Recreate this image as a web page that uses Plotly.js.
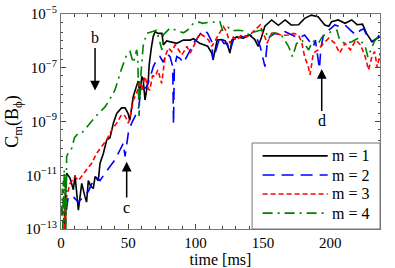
<!DOCTYPE html>
<html><head><meta charset="utf-8">
<script src="https://cdn.plot.ly/plotly-3.0.1.min.js"></script>
<style>html,body{margin:0;padding:0;background:#fff}#chart{width:395px;height:268px}</style>
</head><body><div id="chart"></div>
<script>
// time [ms] and C_m(B_phi) values
const t1 = [2.5,3,4.2,6.7,9.2,10.4,12.9,15.4,17.8,19,20.3,22,24,25.3,27.7,29,31.4,34,36.4,38.9,41.4,45,47.6,49.8,51.1,53.7,56,57.4,58.7,60,61,62.4,64.9,65.5,67,68.5,70,72,75,76,78.5,81,83.5,86,91,96,98.5,103,109,112,113,116,119.5,122,124,125.5,127,130.5,135.5,140,144,146.5,149,151.5,156.5,161.5,166.5,171,176.5,181,186,191,196,199,201,206,211,216,220,224,227,231,235,237];
const m1 = [1e-13,1e-12,1.2e-11,7.9e-12,2.9e-12,1e-11,5e-13,5e-12,1.6e-12,1e-12,6.3e-12,4e-12,3.2e-12,8.9e-12,6.3e-12,2.8e-11,6.3e-11,2.1e-10,2.5e-10,8.7e-10,2e-9,3.2e-9,3.2e-9,2e-9,1.1e-9,8.5e-9,2e-8,3.2e-8,1e-8,4.7e-8,4e-8,6.3e-9,3.7e-8,1.26e-7,5e-7,1.45e-6,2.2e-6,1.9e-6,1.9e-6,7.1e-7,1e-6,9.3e-7,8.9e-7,8.1e-7,1.07e-6,1.07e-6,1.2e-6,8.1e-7,6.3e-7,3.5e-7,1.95e-7,1.07e-6,1.12e-6,1e-6,6.2e-7,3.5e-7,1.07e-6,1.4e-6,1.26e-6,1.66e-6,1.12e-6,6.2e-7,1.4e-6,3.5e-6,6e-6,3.8e-6,6e-6,3.9e-6,4e-6,6.9e-6,9.1e-6,7.9e-6,3.9e-6,3.5e-6,5.2e-6,6e-6,4.5e-6,6e-6,4e-6,4.2e-6,1.9e-6,9.3e-7,1.26e-6,1.4e-6];

const t2 = [3,3.5,5.4,9,12.9,16.6,20.3,25.3,29,32.7,36.4,40,43.8,46.3,47.6,48.8,50,52.5,55,57.4,58.7,61,63.6,66,68.6,71,73.5,76,78.5,81,83,83.6,84.2,86,88.5,91,94.8,98.3,102,104.5,107,109,112,113,116,118,121,123.5,125.5,128,131.5,135.5,140,145,148,149.5,151.5,153,155,159,164,166.5,171,176.5,181,185,187.5,189,191,192,193,195,199,203.5,207,211,215,219,222.5,225,227,231,235,237];
const m2 = [1e-13,3.2e-13,1.6e-12,1.6e-12,1e-12,1.6e-12,2.5e-12,8.9e-12,6.3e-12,1.2e-11,2.1e-11,3.7e-11,8.7e-11,1.55e-10,5e-11,1.26e-10,3.7e-10,8.7e-10,1.5e-9,2.7e-9,7.9e-9,1.5e-8,2e-8,4e-8,1.1e-7,1.95e-7,2.6e-7,1.6e-7,3.5e-7,2.6e-7,1.1e-7,7.9e-10,1e-7,2.6e-7,2.2e-7,1.5e-7,3.5e-7,8.1e-7,1.4e-6,2.2e-6,2.5e-6,1.9e-6,9.3e-7,1.95e-7,6.3e-7,1.4e-6,8.1e-7,8.1e-7,4e-7,1.07e-6,1.66e-6,1.4e-6,1.66e-6,1.4e-6,6.2e-7,2.6e-7,1.1e-7,6.3e-7,1.4e-6,1.9e-6,1.66e-6,2.2e-6,1.66e-6,1.26e-6,1.66e-6,9.3e-7,6.2e-7,1.07e-6,1.95e-7,9.1e-8,5e-7,1.66e-6,2.5e-6,3.9e-6,3.4e-6,3.9e-6,2.5e-6,1.66e-6,2.5e-6,2.8e-6,1.66e-6,9.3e-7,1.26e-6,1.9e-6];

const t3 = [2.5,3,3.5,4.2,6.7,10.4,12.9,15.4,19,22.8,26.5,30.2,34,37.7,41.4,45,47.6,50,51.1,53.7,56.2,58.7,60,62.4,64.9,66,68,70,72,74.8,77.3,79.8,82.3,84.8,87.3,89.8,93.5,96,99.5,103,107,109.6,112,114.6,118.4,120.6,123,125.5,128,130.5,134,138,141.5,145.4,148,150,151.5,153,156.5,160,164,169,172.6,176.5,179,181,183.7,185,187.5,191,195,199,203.5,207,211,215,219,222.5,226,228.5,231,233,235,237];
const m3 = [1e-13,1e-12,1.6e-13,1.6e-12,5e-12,8.9e-12,6.3e-12,8.9e-12,1.6e-11,2.8e-11,6.6e-11,1.17e-10,2.1e-10,4.9e-10,8.7e-10,1.8e-9,1.6e-9,8.7e-10,1.26e-9,6.3e-9,1.1e-8,3.5e-8,1.5e-8,4.7e-8,1.6e-8,1.5e-8,5e-8,4.7e-8,8.3e-8,2.6e-8,2.6e-7,5.4e-7,4e-7,7.1e-7,4.5e-7,3e-7,6.2e-7,3.5e-7,8.1e-7,1.9e-6,1.4e-6,1.07e-6,6.2e-7,1.07e-6,2.2e-6,3.4e-6,2.2e-6,8.1e-7,1.4e-6,1.07e-6,1.66e-6,1.4e-6,1.9e-6,3e-6,3.9e-6,1.9e-6,1.4e-6,8.1e-7,1.9e-6,1.9e-6,1.6e-6,1.66e-6,1.9e-6,1.66e-6,8.1e-7,2.6e-7,1.1e-7,5.4e-8,3.5e-7,4.6e-7,8.1e-7,1.26e-6,8.1e-7,3.5e-7,8.1e-7,4.6e-7,1.07e-6,7.1e-7,2.6e-7,8.3e-8,2.6e-7,4e-7,1e-7,3.5e-7];

const t4 = [0.5,1,1.3,1.7,2,2.4,2.8,3.2,3.6,4.2,6,8,10,12.9,16,20.3,26,32.7,36,40.1,45.1,48.8,51.3,53.7,56.2,57,58,59,61,63.6,67.4,71,75,76,81,86,91,94,98.3,103,105,109,114,118,120,124,127,132,135,140,144,148,151.5,154,158,163,166,169,172,175,179,184,187,191,194,197,201,205,207,211,216,221,226,228,233,237];
const m4 = [3.2e-13,3.2e-12,1e-13,6.3e-12,1.6e-13,1.6e-11,3.2e-13,1e-11,1e-13,5e-11,7.9e-11,1e-10,2.5e-10,3.7e-10,4e-10,7.4e-10,1.6e-9,3.5e-9,6.3e-9,1.5e-8,9.5e-8,3e-7,4e-7,1.5e-7,4.6e-7,2.5e-7,1.6e-9,3.2e-8,6.3e-7,1.9e-6,2.2e-6,2.5e-6,4.6e-7,1.66e-6,3e-6,2.5e-6,2e-6,2.5e-6,4.5e-6,5e-6,4.5e-6,4.8e-6,5e-6,5.2e-6,2.5e-6,3.2e-6,2.4e-6,2.5e-6,2.4e-6,1.66e-6,2.2e-6,2.5e-6,2.5e-6,1.26e-6,2e-6,1.8e-6,1.12e-6,6.3e-7,2.6e-7,7.9e-7,1.07e-6,4.6e-7,1e-6,7.9e-7,1.4e-6,1.8e-6,2.2e-6,2.5e-6,1.07e-6,7.9e-7,9.3e-7,1.26e-6,6.3e-7,2.5e-7,1e-6,1.6e-6];

const names = ['m = 1','m = 2','m = 3','m = 4'];
const yTickVals = [1e-13,1e-11,1e-9,1e-7,1e-5];
const yTickText = ['10<sup>−13</sup>','10<sup>−11</sup>','10<sup>−9</sup>','10<sup>−7</sup>','10<sup>−5</sup>'];
const xTickVals = [0,50,100,150,200];

const colors = ['#000000','#0000ff','#ff0000','#008000'];
const dashes = ['solid','12px,7px','5px,3px','10px,5px,2px,5px'];
const xs = [t1,t2,t3,t4], ys = [m1,m2,m3,m4];

const serif = 'Liberation Serif, Times New Roman, serif';
const traces = names.map((n,i)=>({
  x: xs[i], y: ys[i], name: n, type:'scatter', mode:'lines', showlegend:false,
  line:{color:colors[i], width:1.6, dash:dashes[i]}
}));

function arrow(text, x, yHead, yText){
  return {x:x, y:yHead, ax:x, ay:yText, xref:'x', yref:'y', axref:'x', ayref:'y',
    text:text, showarrow:true, arrowhead:2, arrowsize:1.3, arrowwidth:1.5, arrowcolor:'#000',
    font:{family:serif, size:16, color:'#000'}};
}

// legend box drawn in paper coordinates (bottom-right of the plot)
const legBox = {x0:0.599, x1:1, y0:0, y1:0.4};
const legRowY = [0.340, 0.251, 0.163, 0.074];
const shapes = [{type:'rect', xref:'paper', yref:'paper', x0:legBox.x0, x1:legBox.x1, y0:legBox.y0, y1:legBox.y1,
  fillcolor:'#fff', line:{color:'#777', width:1}, layer:'above'}];
const annotations = [
  arrow('b', 25.3, -7.85, -5.89),
  arrow('c', 48.8, -10.5, -12.2),
  arrow('d', 193.7, -7.05, -8.98)
];
names.forEach((n,i)=>{
  shapes.push({type:'line', xref:'paper', yref:'paper', x0:0.632, x1:0.836, y0:legRowY[i], y1:legRowY[i],
    line:{color:colors[i], width:1.6, dash:dashes[i]}, layer:'above'});
  annotations.push({xref:'paper', yref:'paper', x:0.842, y:legRowY[i], xanchor:'left', yanchor:'middle',
    text:n, showarrow:false, font:{family:serif, size:16, color:'#000'}});
});

const layout = {
  width:395, height:268,
  margin:{l:61, r:15, t:14, b:39},
  paper_bgcolor:'#fff', plot_bgcolor:'#fff',
  font:{family:serif, size:15, color:'#000'},
  showlegend:false,
  xaxis:{range:[0,237], tickvals:xTickVals, ticks:'inside', ticklen:5, tickcolor:'#444',
    showline:true, linecolor:'#777', linewidth:1, mirror:'ticks', showgrid:false, zeroline:false,
    minor:{dtick:10, ticks:'inside', ticklen:3, tickcolor:'#444', showgrid:false},
    tickfont:{family:serif, size:15},
    title:{text:'time [ms]', font:{family:serif, size:16}, standoff:2}},
  yaxis:{type:'log', range:[-13,-5], tickvals:yTickVals, ticktext:yTickText,
    ticks:'inside', ticklen:5, tickcolor:'#444',
    showline:true, linecolor:'#777', linewidth:1, mirror:'ticks', showgrid:false, zeroline:false,
    minor:{ticks:'inside', ticklen:2, tickcolor:'#444', showgrid:false},
    tickfont:{family:serif, size:15},
    title:{text:'C<sub>m</sub>(B<sub>ϕ</sub>)', font:{family:serif, size:18}, standoff:2}},
  shapes: shapes,
  annotations: annotations
};
Plotly.newPlot('chart', traces, layout, {displayModeBar:false, staticPlot:true});
</script></body></html>
